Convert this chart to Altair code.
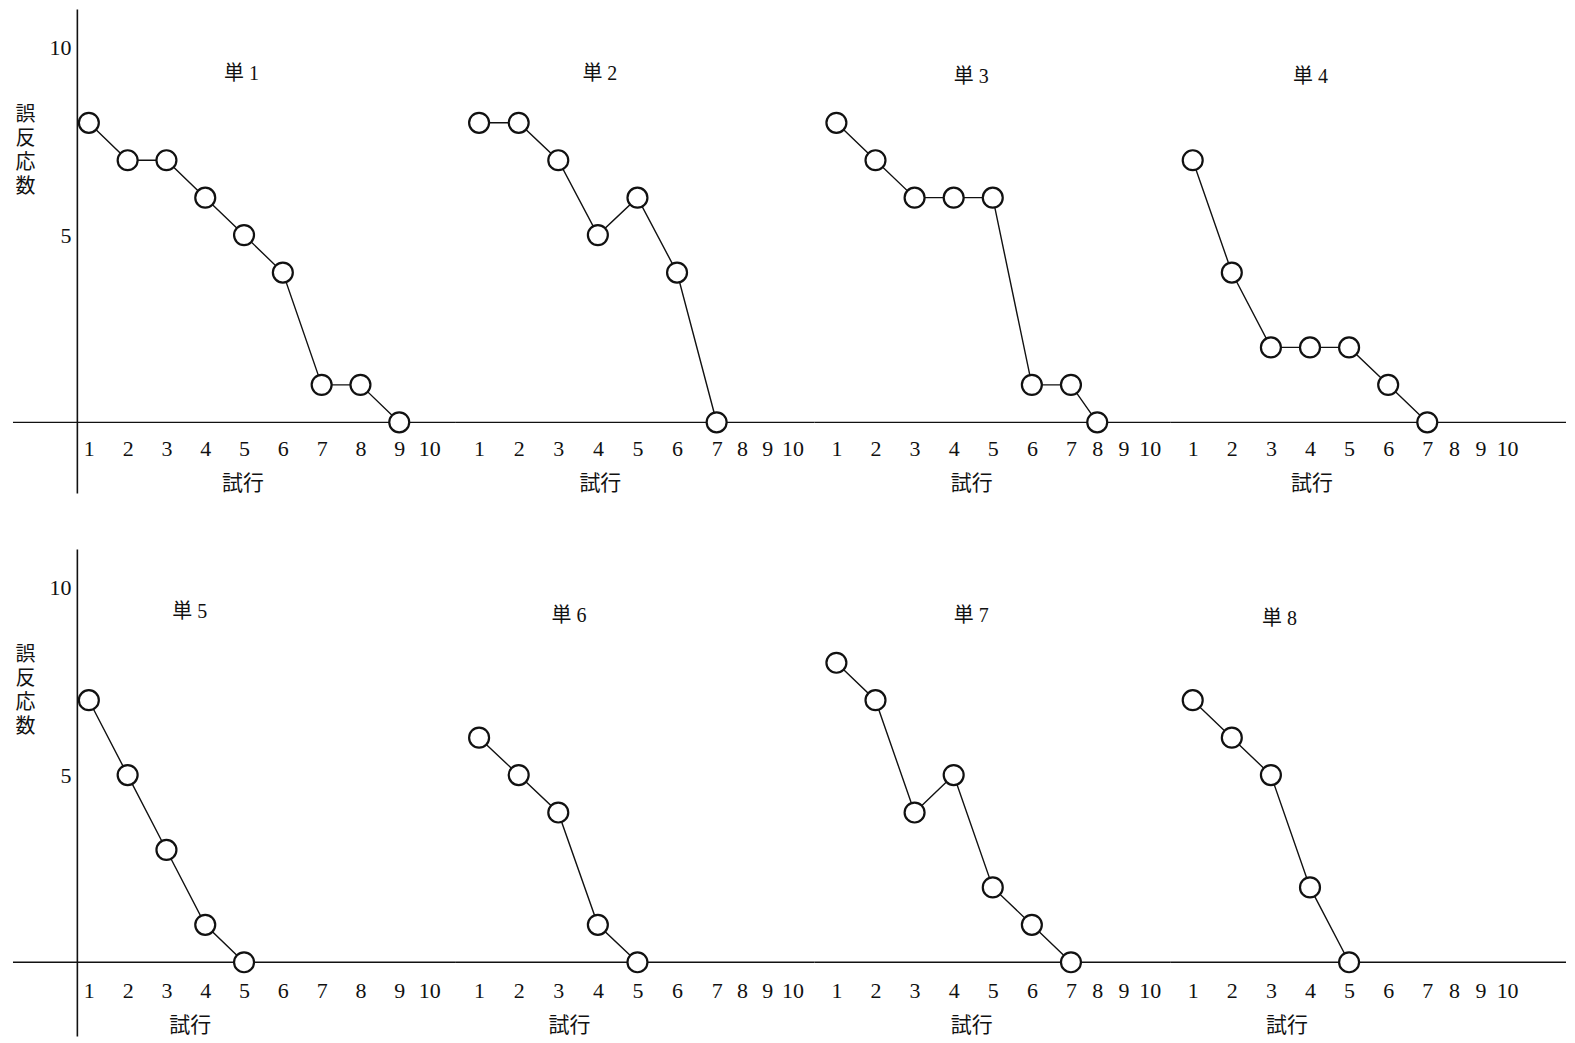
import altair as alt
import pandas as pd

# ---- data ----
panel_titles = ["単 1", "単 2", "単 3", "単 4", "単 5", "単 6", "単 7", "単 8"]
trial_ticks = [1, 2, 3, 4, 5, 6, 7, 8, 9, 10]
y_ticks = [5, 10]
y_title = ["誤", "反", "応", "数"]
x_title = "試行"

errors_1 = [8, 7, 7, 6, 5, 4, 1, 1, 0]
errors_2 = [8, 8, 7, 5, 6, 4, 0]
errors_3 = [8, 7, 6, 6, 6, 1, 1, 0]
errors_4 = [7, 4, 2, 2, 2, 1, 0]
errors_5 = [7, 5, 3, 1, 0]
errors_6 = [6, 5, 4, 1, 0]
errors_7 = [8, 7, 4, 5, 2, 1, 0]
errors_8 = [7, 6, 5, 2, 0]
series = [errors_1, errors_2, errors_3, errors_4,
          errors_5, errors_6, errors_7, errors_8]

# ---- layout / style ----
FONT = "Liberation Serif, Noto Sans CJK JP"
INK = "#111111"
col_widths = [379, 360, 357, 396]
col_x_domain = [[1, 9, 10], [1, 7, 10], [1, 7, 10], [1, 7, 10]]
col_x_range = [[12, 323, 353], [24, 262, 338], [22, 257, 336], [22, 257, 337]]
row_heights = [485, 488]
row_y_domain = [[-1.89, 11.04], [-1.97, 11.04]]
row_x_offset = [-45, -46]
title_x = [[165, 145, 157, 140], [113, 114, 157, 109]]
title_y = [[62, 62, 65, 65], [60, 64, 64, 67]]
axis_title_x = [[166, 145, 157, 141], [113, 114, 157, 116]]


def panel(i):
    row, col = divmod(i, 4)
    vals = series[i]
    df = pd.DataFrame({"試行": list(range(1, len(vals) + 1)), "誤反応数": vals})
    w = col_widths[col]
    h = row_heights[row]
    xscale = alt.Scale(domain=col_x_domain[col], range=col_x_range[col])
    yscale = alt.Scale(domain=row_y_domain[row], nice=False, zero=False)
    xaxis = alt.Axis(
        values=trial_ticks, title=x_title, domain=False, ticks=False, tickSize=0,
        grid=False, labelFont=FONT, labelFontSize=22, labelColor=INK,
        labelBaseline="middle", labelPadding=0, labelFlush=False,
        labelOverlap=False, offset=row_x_offset[row],
        titleFont=FONT, titleFontSize=21, titleFontWeight="normal",
        titleColor=INK, titleX=axis_title_x[row][col], titleY=35,
        titleAlign="center", titleBaseline="middle", titleAnchor="start",
    )
    if col == 0:
        yaxis = alt.Axis(
            values=y_ticks, title=y_title, grid=False, ticks=False, tickSize=0,
            domain=True, domainColor=INK, domainWidth=1.6,
            labelFont=FONT, labelFontSize=22, labelColor=INK, labelPadding=6,
            labelBaseline="middle",
            titleFont=FONT, titleFontSize=20, titleFontWeight="normal",
            titleColor=INK, titleAngle=0, titleAlign="center",
            titleBaseline="top", titleLineHeight=24, titleX=-52, titleY=96,
        )
    else:
        yaxis = None
    x = alt.X("試行:Q", scale=xscale, axis=xaxis)
    y = alt.Y("誤反応数:Q", scale=yscale, axis=yaxis)

    base_df = pd.DataFrame({"誤反応数": [0]})
    rule = alt.Chart(base_df).mark_rule(color=INK, strokeWidth=1.3).encode(
        y=y,
        x=alt.value(-64 if col == 0 else 0),
        x2=alt.value(w),
    )
    line = alt.Chart(df).mark_line(color=INK, strokeWidth=1.4).encode(x=x, y=y)
    pts = alt.Chart(df).mark_point(
        filled=True, fill="white", stroke=INK, strokeWidth=2.2, size=400, opacity=1
    ).encode(x=x, y=y)

    return alt.layer(line, rule, pts).properties(
        width=w, height=h,
        title=alt.TitleParams(
            text=panel_titles[i], anchor="start", align="center",
            dx=title_x[row][col], offset=-(title_y[row][col] + 23), frame="group",
            orient="top", baseline="middle", font=FONT, fontSize=20,
            fontWeight="normal", color=INK,
        ),
    )


chart = alt.ConcatChart(
    concat=[panel(i) for i in range(8)],
    columns=4,
    spacing={"row": 56, "column": 0},
    bounds="flush",
).properties(
    padding={"left": 4, "top": 0, "right": 0, "bottom": 0},
    background="white",
).configure_view(stroke=None)

chart.save("out.html", embed_options={"renderer": "svg", "actions": False})
